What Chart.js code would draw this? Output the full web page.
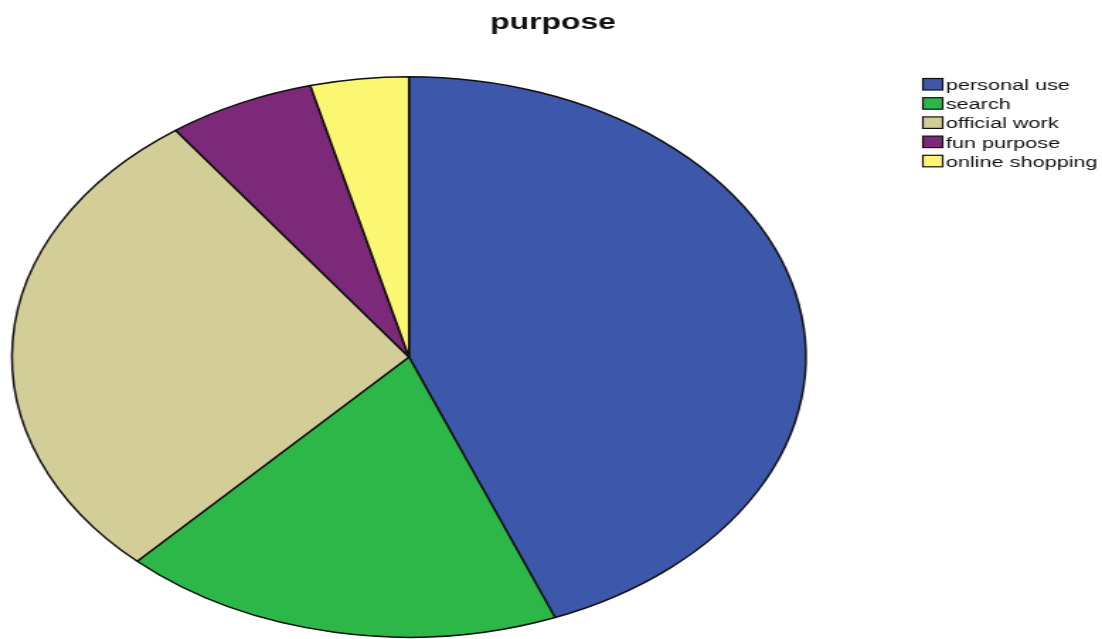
<!DOCTYPE html>
<html>
<head>
<meta charset="utf-8">
<script src="https://cdn.jsdelivr.net/npm/chart.js@4/dist/chart.umd.min.js"></script>
<style>
  html, body { margin: 0; padding: 0; background: #fff; overflow: hidden; }
  #wrap {
    position: absolute; left: 0; top: 0;
    width: 778px; height: 639px;
    transform: scaleX(1.4165); transform-origin: 0 0;
  }
</style>
</head>
<body>
<div id="wrap"><canvas id="c"></canvas></div>
<script>
// Purpose of use (percent of respondents)
const categories = ['personal use', 'search', 'official work', 'fun purpose', 'online shopping'];
const values = [44, 18, 28, 6, 4];
const colors = ['#3d57aa', '#2db748', '#d3cd97', '#7b2978', '#fbf772'];
const chartTitle = 'purpose';

// Title centred across the full canvas width
const topTitle = {
  id: 'topTitle',
  afterDraw(chart) {
    const ctx = chart.ctx;
    ctx.save();
    ctx.font = 'bold 22.5px "Liberation Sans", Arial, sans-serif';
    ctx.fillStyle = '#111';
    ctx.textAlign = 'center';
    ctx.textBaseline = 'alphabetic';
    ctx.fillText(chartTitle, chart.width / 2 + 1.5, 28.5);
    ctx.restore();
  }
};

// Box legend in the top-right corner
const boxLegend = {
  id: 'boxLegend',
  afterDraw(chart) {
    const ctx = chart.ctx;
    const x0 = 651.5, y0 = 78.5, rowH = 19.2, bw = 14, bh = 11.5;
    ctx.save();
    ctx.font = '15.3px "Liberation Sans", Arial, sans-serif';
    ctx.textBaseline = 'middle';
    ctx.textAlign = 'left';
    chart.data.labels.forEach((lab, i) => {
      const y = y0 + i * rowH;
      ctx.fillStyle = chart.data.datasets[0].backgroundColor[i];
      ctx.fillRect(x0, y, bw, bh);
      ctx.lineWidth = 1.2;
      ctx.strokeStyle = '#111';
      ctx.strokeRect(x0, y, bw, bh);
      ctx.fillStyle = '#111';
      ctx.fillText(lab, x0 + bw + 2.2, y + bh / 2 + 1.5);
    });
    ctx.restore();
  }
};

new Chart(document.getElementById('c'), {
  type: 'pie',
  data: {
    labels: categories,
    datasets: [{
      data: values,
      backgroundColor: colors,
      borderColor: '#111',
      borderWidth: 1.5
    }]
  },
  options: {
    responsive: true,
    maintainAspectRatio: false,
    animation: false,
    layout: { padding: { left: 0, right: 200.6, top: 76, bottom: 1 } },
    plugins: {
      legend: { display: false },
      tooltip: { enabled: false },
      title: { display: false }
    }
  },
  plugins: [topTitle, boxLegend]
});
</script>
</body>
</html>
